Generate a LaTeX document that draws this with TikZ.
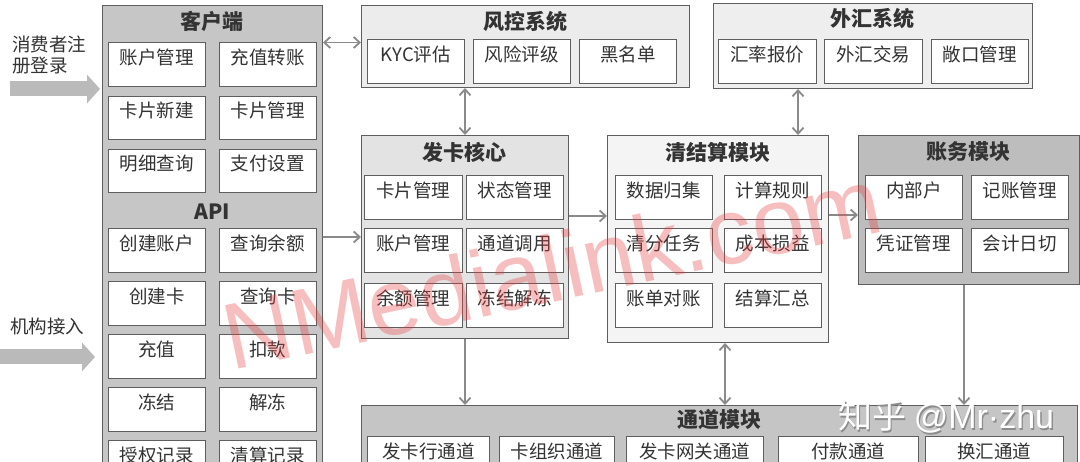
\documentclass[tikz,border=0pt]{standalone}
\usepackage{fontspec}
\setmainfont{Noto Sans CJK SC}
\newfontfamily\wmfont{Liberation Sans}
\usetikzlibrary{arrows.meta}
\definecolor{bordc}{HTML}{5E5E5E}
\definecolor{txtc}{HTML}{333333}
\definecolor{arrc}{HTML}{8A8A8A}
\definecolor{bigc}{HTML}{BABABA}
\definecolor{clientc}{HTML}{C6C6C6}
\definecolor{riskc}{HTML}{ECECEC}
\definecolor{fxc}{HTML}{EEEEEE}
\definecolor{corec}{HTML}{E3E3E3}
\definecolor{qsc}{HTML}{F4F4F4}
\definecolor{acctc}{HTML}{BDBDBD}
\definecolor{chc}{HTML}{C5C5C5}
\definecolor{wmc}{RGB}{230,60,60}
\definecolor{shadc}{HTML}{8C8C8C}
\tikzset{
  inbox/.style={draw=bordc, fill=white, line width=0.9pt, inner xsep=0pt, inner ysep=0pt,
    text=txtc, font=\fontsize{18.5}{20}\selectfont},
  outbox/.style={draw=bordc, line width=1pt, inner sep=0pt},
  ttl/.style={text=txtc, font=\bfseries\fontsize{21}{23}\selectfont, inner sep=0pt, anchor=base},
  lefttxt/.style={text=txtc, font=\fontsize{18.5}{20}\selectfont, inner sep=0pt, anchor=base west},
  conn/.style={draw=arrc, line width=1.8pt, -{Straight Barb[length=6pt,width=11pt]}},
  conntwo/.style={draw=arrc, line width=1.8pt, {Straight Barb[length=6pt,width=11pt]}-{Straight Barb[length=6pt,width=11pt]}},
  bigarr/.style={draw=bigc, line width=15pt, -{Triangle[length=13pt,width=28pt]}},
  zhmark/.style={font=\fontsize{34}{34}\selectfont, anchor=base west, inner sep=0pt},
}
\newcommand\ibox[6]{%
  \pgfmathsetmacro\ibw{#4-#2}%
  \pgfmathsetmacro\ibh{(#5-#3)/2}%
  \node[inbox, anchor=north west, minimum width=\ibw pt, text height=\ibh pt, text depth=\ibh pt] (#1) at (#2,#3) {#6};}
\newcommand\obox[6]{%
  \pgfmathsetmacro\obw{#4-#2}%
  \pgfmathsetmacro\obh{#5-#3}%
  \node[outbox, fill=#6, anchor=north west, minimum width=\obw pt, minimum height=\obh pt] (#1) at (#2,#3) {};}
\begin{document}
\begin{tikzpicture}[x=1pt,y=-1pt]
\useasboundingbox (0,0) rectangle (1080,462);
\fill[white] (0,0) rectangle (1080,462);
% outer boxes
\obox{client}{102}{5}{322}{490}{clientc}
\obox{fk}{361}{5}{689}{87}{riskc}
\obox{fx}{713}{3}{1032}{88}{fxc}
\obox{core}{361}{135}{568}{338}{corec}
\obox{qs}{607}{135}{828}{342}{qsc}
\obox{acct}{858}{135}{1079}{284}{acctc}
\obox{ch}{361}{405}{1077}{490}{chc}
% titles
\node[ttl] (clientt) at (212,29.5) {客户端};
\node[ttl] (apit) at (212,219.5) {API};
\node[ttl] (fkt) at (525,29.5) {风控系统};
\node[ttl] (fxt) at (872.5,27) {外汇系统};
\node[ttl] (coret) at (464.5,161) {发卡核心};
\node[ttl] (qst) at (717.5,161) {清结算模块};
\node[ttl] (acctt) at (968.5,160) {账务模块};
\node[ttl] (cht) at (719,428) {通道模块};
% client boxes
\ibox{ca1}{108}{42}{205}{86}{账户管理}
\ibox{ca2}{219}{42}{316}{86}{充值转账}
\ibox{ca3}{108}{96}{205}{139}{卡片新建}
\ibox{ca4}{219}{96}{316}{139}{卡片管理}
\ibox{ca5}{108}{149}{205}{192}{明细查询}
\ibox{ca6}{219}{149}{316}{192}{支付设置}
\ibox{cb1}{108}{228}{205}{272}{创建账户}
\ibox{cb2}{219}{228}{316}{272}{查询余额}
\ibox{cb3}{108}{281}{205}{325}{创建卡}
\ibox{cb4}{219}{281}{316}{325}{查询卡}
\ibox{cb5}{108}{334}{205}{378}{充值}
\ibox{cb6}{219}{334}{316}{378}{扣款}
\ibox{cb7}{108}{387}{205}{431}{冻结}
\ibox{cb8}{219}{387}{316}{431}{解冻}
\ibox{cb9}{108}{440}{205}{484}{授权记录}
\ibox{cb10}{219}{440}{316}{484}{清算记录}
% risk
\ibox{fk1}{367}{39}{464}{83}{KYC评估}
\ibox{fk2}{473}{39}{570}{83}{风险评级}
\ibox{fk3}{579}{39}{676}{83}{黑名单}
% fx
\ibox{fx1}{718}{39}{816}{83}{汇率报价}
\ibox{fx2}{824}{39}{922}{83}{外汇交易}
\ibox{fx3}{931}{39}{1028}{83}{敞口管理}
% core
\ibox{co1}{364}{175}{462}{219}{卡片管理}
\ibox{co2}{466}{175}{563}{219}{状态管理}
\ibox{co3}{364}{228}{462}{272}{账户管理}
\ibox{co4}{466}{228}{563}{272}{通道调用}
\ibox{co5}{364}{283}{462}{327}{余额管理}
\ibox{co6}{466}{283}{563}{327}{冻结解冻}
% qs
\ibox{qs1}{615}{175}{712}{219}{数据归集}
\ibox{qs2}{724}{175}{821}{219}{计算规则}
\ibox{qs3}{615}{228}{712}{272}{清分任务}
\ibox{qs4}{724}{228}{821}{272}{成本损益}
\ibox{qs5}{615}{283}{712}{327}{账单对账}
\ibox{qs6}{724}{283}{821}{327}{结算汇总}
% acct
\ibox{ac1}{865}{175}{962}{219}{内部户}
\ibox{ac2}{971}{175}{1068}{219}{记账管理}
\ibox{ac3}{865}{228}{962}{272}{凭证管理}
\ibox{ac4}{971}{228}{1068}{272}{会计日切}
% channels
\ibox{ch1}{367}{436}{489}{480}{发卡行通道}
\ibox{ch2}{499}{436}{614}{480}{卡组织通道}
\ibox{ch3}{626}{436}{763}{480}{发卡网关通道}
\ibox{ch4}{778}{436}{918}{480}{付款通道}
\ibox{ch5}{925}{436}{1063}{480}{换汇通道}
% left texts and arrows
\node[lefttxt] (l1) at (12,52) {消费者注};
\node[lefttxt] (l2) at (12,73) {册登录};
\node[lefttxt] (l3) at (10,334) {机构接入};
\coordinate (in1) at (10,89);
\coordinate (in2) at (0,357);
\draw[bigarr, shorten >=2pt] (in1) -- (in1 -| client.west);
\draw[bigarr, shorten >=7pt] (in2) -- (in2 -| client.west);
% connectors
\coordinate (k1) at ([yshift=4pt]fk.west);
\draw[conntwo] (k1 -| client.east) -- (k1);
\draw[conn] (core.west -| client.east) -- (core.west);
\draw[conntwo] (core.north |- fk.south) -- (core.north);
\coordinate (k2) at ([yshift=21pt]core.east);
\draw[conn] (k2) -- (k2 -| qs.west);
\coordinate (k3) at ([xshift=80pt]qs.north);
\draw[conntwo] (k3 |- fx.south) -- (k3);
\coordinate (k4) at ([yshift=-5pt]acct.west);
\draw[conn] (k4 -| qs.east) -- (k4);
\draw[conn] (core.south) -- (core.south |- ch.north);
\coordinate (k5) at ([xshift=7pt]qs.south);
\draw[conntwo] (k5) -- (k5 |- ch.north);
\coordinate (k6) at ([xshift=-5pt]acct.south);
\draw[conn] (k6) -- (k6 |- ch.north);
% watermarks
\node[text=wmc, text opacity=0.33, font=\wmfont\fontsize{94}{94}\selectfont, rotate=12, inner sep=0pt] (wm) at (552,268) {NMedialink.com};
\node[zhmark, text=shadc] (zhs) at (839.3,430.3) {知乎 {\wmfont @Mr·zhu}};
\node[zhmark, text=white] (zh) at (838,429) {知乎 {\wmfont @Mr·zhu}};
\end{tikzpicture}
\end{document}
